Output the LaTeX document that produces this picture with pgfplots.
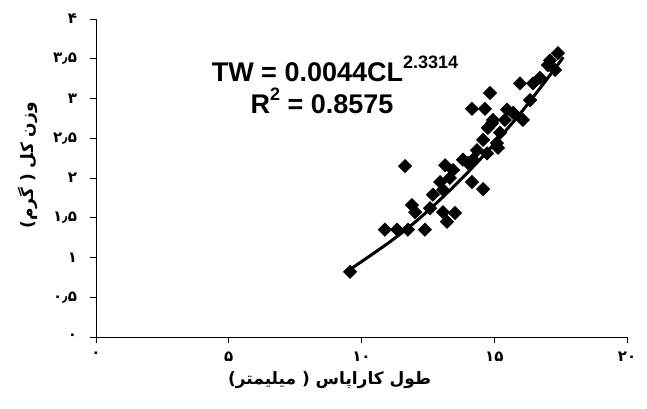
\documentclass[border=0pt]{standalone}
\usepackage{fontspec}
\setmainfont{Liberation Sans}
\newfontfamily\fa[Script=Arabic]{DejaVu Sans}
\usepackage{pgfplots}
\pgfplotsset{compat=1.18}
\TeXXeTstate=1
\begin{document}
\begin{tikzpicture}
\useasboundingbox (-48pt,-35.5pt) rectangle (275.5pt,168.5pt);
\begin{axis}[
  scale only axis, width=265.5pt, height=159pt,
  xmin=0, xmax=20, ymin=0, ymax=4,
  axis x line=bottom, axis y line=left,
  axis line style={-, line width=0.5pt},
  xtick={0,5,10,15,20},
  xticklabels={۰,۵,۱۰,۱۵,۲۰},
  ytick={0,0.5,1,1.5,2,2.5,3,3.5,4},
  yticklabels={۰,۰٫۵,۱,۱٫۵,۲,۲٫۵,۳,۳٫۵,۴},
  tick align=outside, major tick length=3pt,
  tick style={black, line width=0.5pt},
  tick label style={font=\fa\bfseries\fontsize{7.5}{8}\selectfont},
  yticklabel style={xshift=-3pt},
  xticklabel style={yshift=-1pt},
  xlabel={\beginR طول کاراپاس ( میلیمتر)\endR},
  ylabel={\beginR وزن کل ( گرم)\endR},
  label style={font=\fa\bfseries\fontsize{8.5}{10}\selectfont},
  xlabel style={at={(axis description cs:0.44,0)}, anchor=center, yshift=-21.5pt},
  ylabel style={at={(axis description cs:0,0.54)}, anchor=center, yshift=34pt},
  clip=false,
]
\addplot[only marks, mark=square*, mark size=2.3pt, mark options={rotate=45, fill=black, draw=black}] coordinates {
(9.57,0.82) (10.88,1.35) (11.34,1.35) (11.75,1.35) (12.39,1.35)
(11.64,2.15) (11.90,1.66) (12.02,1.57) (12.58,1.62) (13.07,1.57)
(13.22,1.45) (13.52,1.56) (12.96,1.95) (13.07,1.85) (13.15,2.16)
(13.45,2.10) (13.82,2.23) (14.16,1.95) (14.58,1.86) (14.20,2.23)
(14.35,2.35) (14.73,2.31) (14.58,2.48) (15.10,2.44) (15.14,2.38)
(14.76,2.63) (14.92,2.69) (15.22,2.57) (14.16,2.87) (14.65,2.87)
(14.84,3.07) (15.48,2.86) (15.71,2.82) (14.95,2.73) (16.08,2.73)
(16.35,2.98) (15.97,3.19) (16.46,3.19) (17.02,3.42) (17.29,3.36)
(17.10,3.48) (17.40,3.57) (12.69,1.79) (13.33,2.00) (14.01,2.19)
(15.40,2.73) (16.72,3.26)
};
\addplot[black, line width=1.5pt, smooth] coordinates {
(9.57,0.85) (11,1.18) (12,1.44) (13,1.74) (14,2.07) (15,2.43) (16,2.82) (17,3.25) (17.6,3.52)
};
\node[font=\bfseries\fontsize{13.5}{16}\selectfont] at (axis cs:9.0,3.37) {TW = 0.0044CL\raisebox{0.9ex}{\fontsize{9}{10}\selectfont 2.3314}};
\node[font=\bfseries\fontsize{13.5}{16}\selectfont] at (axis cs:8.51,2.97) {R\raisebox{0.9ex}{\fontsize{9}{10}\selectfont 2} = 0.8575};
\end{axis}
\end{tikzpicture}
\end{document}
